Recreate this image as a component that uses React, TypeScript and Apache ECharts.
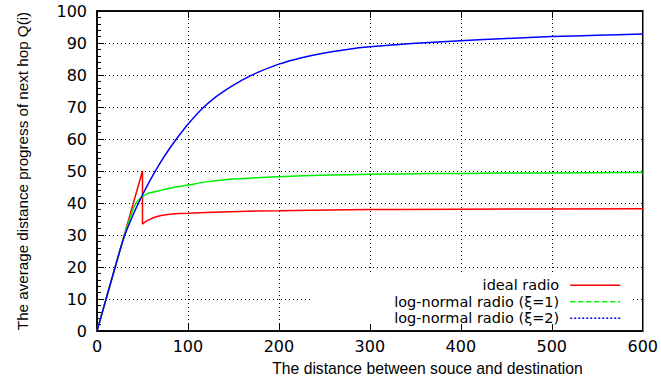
import React, { useEffect, useRef } from "react";
import * as echarts from "echarts";

const xTitle = "The distance between souce and destination";
const yTitle = "The average distance progress of next hop Q(i)";
const seriesNames = ["ideal radio", "log-normal radio (ξ=1)", "log-normal radio (ξ=2)"];

const idealX = [0, 50, 50, 52, 55, 58, 62, 66, 72, 80, 90, 100, 120, 146, 175, 200, 256, 300, 335, 400, 450, 500, 600];
const idealY = [0, 50, 33.4, 33.9, 34.5, 34.9, 35.4, 35.8, 36.2, 36.5, 36.7, 36.8, 37.05, 37.3, 37.5, 37.6, 37.85, 37.95, 38.0, 38.05, 38.1, 38.15, 38.2];

const ln1X = [0, 10, 20, 30, 35, 40, 42.5, 45, 50, 54, 58, 65, 72, 85, 100, 120, 146, 175, 198, 256, 300, 335, 400, 450, 500, 600];
const ln1Y = [0, 10, 20, 29.8, 34.2, 38.2, 39.8, 40.8, 42.0, 42.7, 43.2, 43.6, 44.1, 44.9, 45.6, 46.6, 47.4, 47.9, 48.2, 48.75, 48.95, 49.1, 49.25, 49.35, 49.4, 49.5];

const ln2X = [0, 10, 20, 30, 40, 50, 60, 70, 80, 90, 100, 115, 130, 146, 160, 175, 200, 225, 250, 275, 300, 350, 400, 450, 500, 550, 600];
const ln2Y = [0, 10, 20, 29.5, 36.5, 42.5, 47.9, 52.8, 57.1, 61.0, 64.6, 69.3, 73.0, 76.1, 78.5, 80.6, 83.4, 85.4, 86.9, 88.0, 88.8, 89.9, 90.7, 91.4, 92.0, 92.4, 92.8];

const pairs = (xs: number[], ys: number[]) => xs.map((x, i) => [x, ys[i]]);

export default function App() {
  const ref = useRef<HTMLDivElement>(null);
  useEffect(() => {
    if (!ref.current) return;
    const chart = echarts.init(ref.current, null, { renderer: "svg" });
    const axisLine = { show: true, lineStyle: { color: "#000", width: 1.5 } };
    const dotted = { show: true, lineStyle: { color: "#000", type: [1, 3] as any, width: 1 } };
    const noSymbol = { color: "transparent", borderColor: "transparent", borderWidth: 0 };
    chart.setOption({
      animation: false,
      backgroundColor: "#fff",
      grid: { left: 97, top: 11, right: 18, bottom: 49, show: true, borderColor: "#000", borderWidth: 1.5 },
      xAxis: [
        {
          type: "value", min: 0, max: 600, interval: 100, position: "bottom",
          axisLine,
          axisTick: { show: true, inside: true, length: 7, lineStyle: { color: "#000" } },
          axisLabel: { margin: 7, fontFamily: "DejaVu Sans", fontSize: 16, color: "#000" },
          splitLine: dotted,
        },
        {
          type: "value", min: 0, max: 600, interval: 100, position: "top",
          axisLine,
          axisTick: { show: true, inside: true, length: 7, lineStyle: { color: "#000" } },
          axisLabel: { show: false },
          splitLine: { show: false },
        },
      ],
      yAxis: {
        type: "value", min: 0, max: 100, interval: 10,
        name: yTitle, nameLocation: "middle", nameGap: 67,
        nameTextStyle: { fontFamily: "Liberation Sans", fontSize: 15.2, color: "#000" },
        axisLine,
        axisTick: { show: true, inside: true, length: 7, lineStyle: { color: "#000" } },
        minorTick: { show: true, splitNumber: 5, length: 4, lineStyle: { color: "#000" } },
        axisLabel: { margin: 10, fontFamily: "DejaVu Sans", fontSize: 16, color: "#000" },
        splitLine: dotted,
      },
      graphic: [
        { type: "rect", z: 1, shape: { x: 311, y: 274, width: 319, height: 50 }, style: { fill: "#fff" } },
        {
          type: "text", z: 10, x: 427.5, y: 368,
          style: { text: xTitle, fill: "#000", font: "15.7px 'Liberation Sans'", align: "center", verticalAlign: "middle" },
        },
      ],
      legend: {
        orient: "vertical", align: "right", right: 40, top: 277,
        itemWidth: 50, itemHeight: 10, itemGap: 0, padding: 0, z: 5,
        selectedMode: false,
        itemStyle: noSymbol,
        textStyle: { fontFamily: "DejaVu Sans", fontSize: 14.5, color: "#000", lineHeight: 16.5, padding: [0, 6, 0, 0] },
        data: [
          { name: seriesNames[0], itemStyle: noSymbol, lineStyle: { color: "#ff0000", type: "solid", width: 1.5 } },
          { name: seriesNames[1], itemStyle: noSymbol, lineStyle: { color: "#00ee00", type: [5, 3], width: 1.5 } },
          { name: seriesNames[2], itemStyle: noSymbol, lineStyle: { color: "#0000ff", type: [2, 2], width: 1.5 } },
        ],
      },
      series: [
        {
          name: seriesNames[0], type: "line", symbol: "none", xAxisIndex: 0,
          data: pairs(idealX, idealY),
          lineStyle: { color: "#ff0000", width: 1.5 }, itemStyle: { color: "#ff0000" },
        },
        {
          name: seriesNames[1], type: "line", symbol: "none", xAxisIndex: 0, smooth: 0.3,
          data: pairs(ln1X, ln1Y),
          lineStyle: { color: "#00ee00", width: 1.5 }, itemStyle: { color: "#00ee00" },
        },
        {
          name: seriesNames[2], type: "line", symbol: "none", xAxisIndex: 0, smooth: 0.3,
          data: pairs(ln2X, ln2Y),
          lineStyle: { color: "#0000ff", width: 1.5 }, itemStyle: { color: "#0000ff" },
        },
      ],
    });
    return () => chart.dispose();
  }, []);
  return <div ref={ref} style={{ position: "absolute", left: 0, top: 0, width: 661, height: 380 }} />;
}
